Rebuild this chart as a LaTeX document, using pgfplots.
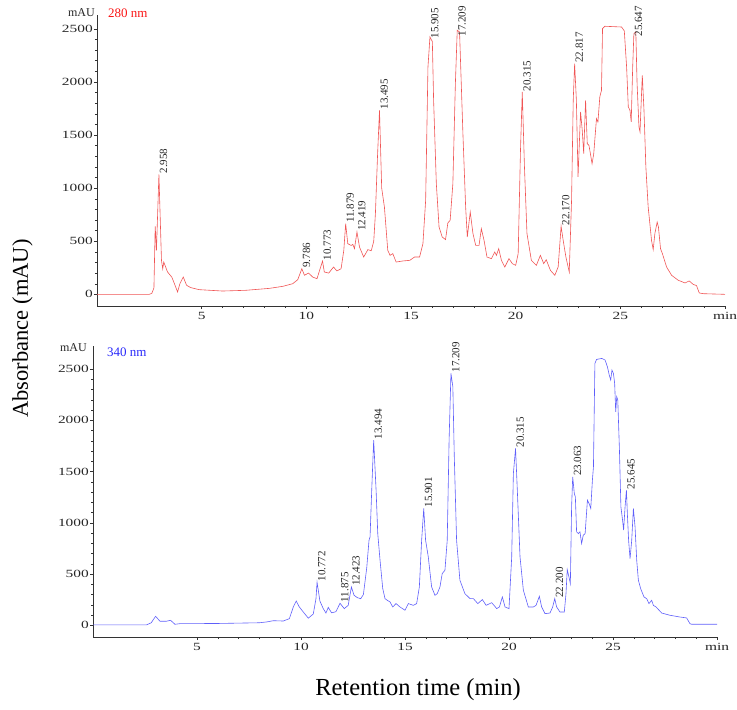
\documentclass[border=0pt]{standalone}
\usepackage{fontspec}
\setmainfont{Liberation Serif}
\newfontfamily\tickfont[FakeStretch=1.4]{Liberation Serif}
\usepackage{pgfplots}
\pgfplotsset{compat=1.18}

\definecolor{trRed}{RGB}{240,85,85}
\definecolor{trBlue}{RGB}{95,95,250}
\definecolor{lbRed}{RGB}{250,20,20}
\definecolor{lbBlue}{RGB}{40,40,250}

\pgfplotsset{
  chrom/.style={
    scale only axis, height=291pt,
    xmin=0, xmax=30,
    axis x line*=bottom, axis y line*=left,
    axis line style={black!80,-},
    tick align=outside,
    major tick length=3pt, minor tick length=2pt,
    tick style={black!80, line width=0.4pt},
    xtick={5,10,...,30}, xticklabels={5,10,15,20,25,min},
    minor x tick num=4,
    ytick={0,500,...,2500}, minor y tick num=4,
    /pgf/number format/1000 sep={},
    /pgf/number format/assume math mode=true,
    ticklabel style={font=\tickfont\fontsize{11}{11}\selectfont, text=black!85},
    yticklabel style={inner sep=1pt},
    clip=false,
  },
}
\tikzset{
  peak/.style={rotate=90, anchor=north west, inner sep=0.8pt,
    font=\fontsize{11}{11}\selectfont, text=black!85},
}

\begin{document}
\begin{tikzpicture}
\useasboundingbox (0,0) rectangle (737pt,-710pt);

% 280 nm
\begin{axis}[chrom, at={(97pt,-306pt)}, anchor=south west, width=628pt,
  ymin=-110, ymax=2630]
\addplot[trRed, line width=0.6pt] coordinates {
(0.00,0) (2.50,0) (2.62,10) (2.72,60) (2.78,640) (2.84,414) (2.958,1130)
(3.08,320) (3.14,240) (3.19,304) (3.37,210) (3.57,163) (3.65,125) (3.85,22)
(3.96,100) (4.12,163) (4.28,85) (4.48,63) (4.88,44) (6.00,31) (7.12,38)
(8.23,56) (8.87,75) (9.35,100) (9.59,138) (9.786,241) (9.91,180) (10.11,200)
(10.30,163) (10.51,147) (10.773,313) (10.86,210) (11.07,200) (11.30,257)
(11.46,220) (11.66,241) (11.79,414) (11.879,665) (11.98,477) (12.14,460)
(12.22,470) (12.30,430) (12.419,587) (12.54,445) (12.74,351) (12.94,421)
(13.10,410) (13.22,500) (13.30,760) (13.40,1300) (13.495,1733) (13.60,1000)
(13.73,822) (13.89,414) (14.00,367) (14.13,383) (14.29,304) (14.61,314)
(14.94,320) (15.17,351) (15.41,351) (15.57,477) (15.70,885) (15.81,2140)
(15.905,2423) (16.02,2380) (16.08,1827) (16.21,1042) (16.34,634) (16.49,540)
(16.65,515) (16.76,672) (16.87,697) (17.00,1042) (17.12,1984) (17.209,2486)
(17.32,2470) (17.48,1513) (17.61,822) (17.69,540) (17.83,775) (17.96,572)
(18.09,461) (18.25,461) (18.36,618) (18.49,508) (18.63,351) (18.84,336)
(19.00,398) (19.08,367) (19.19,430) (19.32,320) (19.48,257) (19.68,336)
(19.84,289) (20.00,273) (20.12,383) (20.23,1356) (20.315,1905) (20.42,1199)
(20.54,572) (20.75,320) (20.99,273) (21.18,367) (21.34,289) (21.46,326)
(21.66,226) (21.87,179) (22.03,257) (22.170,640) (22.27,508) (22.40,351)
(22.56,210) (22.67,885) (22.75,1827) (22.817,2172) (22.90,1827) (22.98,1105)
(23.10,1717) (23.18,1545) (23.25,1325) (23.34,1827) (23.42,1419) (23.50,1403)
(23.57,1325) (23.65,1230) (23.73,1325) (23.86,1654) (23.93,1623) (24.02,1859)
(24.10,1921) (24.15,2502) (24.26,2524) (25.06,2517) (25.19,2480) (25.30,2140)
(25.38,1765) (25.46,1733) (25.52,1623) (25.59,2140) (25.647,2455) (25.74,2470)
(25.80,1984) (25.89,1576) (25.94,1529) (26.00,1827) (26.05,2062) (26.13,1733)
(26.22,1199) (26.33,822) (26.49,508) (26.57,421) (26.65,572) (26.76,681)
(26.82,634) (26.92,430) (27.01,383) (27.21,257) (27.45,179) (27.77,132)
(28.09,107) (28.29,126) (28.48,94) (28.64,82) (28.77,13) (28.96,6) (30.00,0)
};
\node[peak] at (axis cs:2.958,1130) {2.958};
\node[peak] at (axis cs:9.786,241) {9.786};
\node[peak] at (axis cs:10.773,313) {10.773};
\node[peak] at (axis cs:11.879,665) {11.879};
\node[peak] at (axis cs:12.419,587) {12.419};
\node[peak] at (axis cs:13.495,1733) {13.495};
\node[peak] at (axis cs:15.905,2400) {15.905};
\node[peak] at (axis cs:17.209,2420) {17.209};
\node[peak] at (axis cs:20.315,1905) {20.315};
\node[peak] at (axis cs:22.170,640) {22.170};
\node[peak] at (axis cs:22.817,2172) {22.817};
\node[peak] at (axis cs:25.647,2420) {25.647};
\node[anchor=east, inner sep=0pt, font=\fontsize{12}{12}\selectfont, text=black!85]
  at ([xshift=-2pt,yshift=2pt]axis description cs:0,1) {mAU};
\node[anchor=west, inner sep=0pt, font=\fontsize{13}{13}\selectfont, text=lbRed]
  at ([xshift=11pt,yshift=2pt]axis description cs:0,1) {280 nm};
\end{axis}

% 340 nm
\begin{axis}[chrom, at={(93pt,-637pt)}, anchor=south west, width=624pt,
  ymin=-114, ymax=2725]
\addplot[trBlue, line width=0.6pt] coordinates {
(0.00,5) (2.58,5) (2.80,25) (3.01,88) (3.22,40) (3.53,40) (3.73,49) (3.94,10)
(4.17,16) (6.00,18) (8.00,25) (8.35,33) (8.67,45) (9.15,42) (9.44,65)
(9.63,179) (9.77,237) (9.92,179) (10.11,130) (10.35,70) (10.59,110) (10.72,260)
(10.772,420) (10.91,236) (11.07,163) (11.20,120) (11.31,175) (11.47,122)
(11.68,133) (11.875,215) (12.08,163) (12.27,195) (12.423,374) (12.55,293)
(12.71,270) (12.87,260) (13.00,300) (13.16,560) (13.27,830) (13.32,863)
(13.40,1318) (13.494,1807) (13.61,1318) (13.69,895) (13.80,635) (13.93,358)
(14.04,260) (14.15,244) (14.28,228) (14.41,179) (14.57,212) (14.76,179)
(15.00,147) (15.16,212) (15.40,195) (15.56,212) (15.69,374) (15.80,830)
(15.901,1140) (15.99,830) (16.12,667) (16.28,374) (16.44,293) (16.55,309)
(16.68,374) (16.79,505) (16.92,537) (17.03,830) (17.12,1807) (17.209,2458)
(17.30,2328) (17.37,1644) (17.48,830) (17.64,440) (17.88,309) (18.13,260)
(18.29,260) (18.50,212) (18.72,251) (18.90,195) (19.17,221) (19.41,163)
(19.54,179) (19.68,277) (19.81,179) (20.00,163) (20.13,667) (20.21,1481)
(20.315,1726) (20.40,1318) (20.53,667) (20.69,342) (20.93,179) (21.17,179)
(21.30,195) (21.46,283) (21.57,179) (21.73,114) (21.97,120) (22.10,179)
(22.20,260) (22.29,179) (22.45,130) (22.66,130) (22.74,309) (22.80,544)
(22.90,456) (22.95,407) (23.01,1157) (23.063,1449) (23.14,1286) (23.19,1254)
(23.25,912) (23.33,895) (23.41,912) (23.49,798) (23.57,879) (23.66,895)
(23.77,1221) (23.85,1188) (23.93,1140) (24.01,1416) (24.06,1546) (24.13,2555)
(24.21,2594) (24.46,2604) (24.62,2588) (24.73,2523) (24.82,2441) (24.89,2393)
(24.95,2490) (25.02,2458) (25.08,2360) (25.13,2083) (25.18,2230) (25.23,2197)
(25.31,1709) (25.38,1156) (25.46,1026) (25.51,928) (25.58,1156) (25.645,1318)
(25.69,1091) (25.75,830) (25.82,651) (25.90,830) (25.98,1140) (26.06,961)
(26.14,635) (26.22,440) (26.33,358) (26.49,277) (26.62,260) (26.73,212)
(26.86,244) (26.94,195) (27.07,179) (27.34,120) (27.74,98) (28.22,81)
(28.54,72) (28.70,16) (28.78,10) (30.00,10)
};
\node[peak] at (axis cs:10.772,420) {10.772};
\node[peak] at (axis cs:11.875,215) {11.875};
\node[peak] at (axis cs:12.423,374) {12.423};
\node[peak] at (axis cs:13.494,1807) {13.494};
\node[peak] at (axis cs:15.901,1140) {15.901};
\node[peak] at (axis cs:17.209,2458) {17.209};
\node[peak] at (axis cs:20.315,1726) {20.315};
\node[peak] at (axis cs:22.200,260) {22.200};
\node[peak] at (axis cs:23.063,1449) {23.063};
\node[peak] at (axis cs:25.645,1318) {25.645};
\node[anchor=east, inner sep=0pt, font=\fontsize{12}{12}\selectfont, text=black!85]
  at ([xshift=-6pt,yshift=-2pt]axis description cs:0,1) {mAU};
\node[anchor=west, inner sep=0pt, font=\fontsize{13}{13}\selectfont, text=lbBlue]
  at ([xshift=14pt,yshift=-6.5pt]axis description cs:0,1) {340 nm};
\end{axis}

\node[rotate=90, font=\fontsize{22.5}{27}\selectfont] at (22.5pt,-328.5pt) {Absorbance (mAU)};
\node[font=\fontsize{24.5}{29}\selectfont] at (418pt,-690pt) {Retention time (min)};
\end{tikzpicture}
\end{document}
